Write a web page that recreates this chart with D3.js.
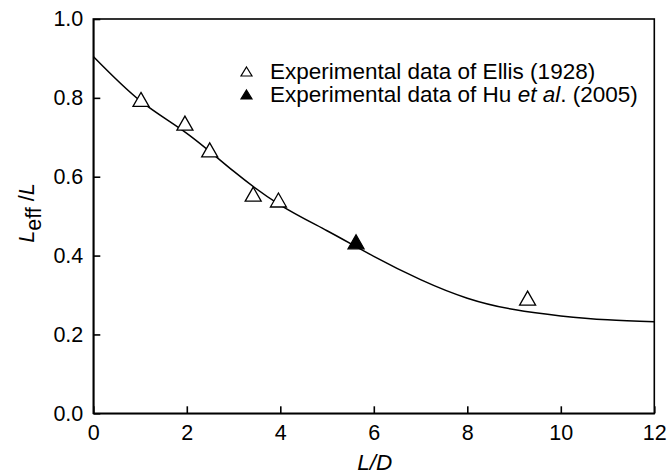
<!DOCTYPE html>
<html>
<head>
<meta charset="utf-8">
<script src="https://cdn.jsdelivr.net/npm/d3@7"></script>
<style>
  body { margin: 0; background: #fff; }
  svg { display: block; font-family: "Liberation Sans", Arial, Helvetica, sans-serif; }
</style>
</head>
<body>
<script>
// Ellis (1928) data, open triangles
const ellisLD = [1.02, 1.96, 2.49, 3.42, 3.96, 9.29];
const ellisLeff = [0.796, 0.736, 0.668, 0.556, 0.541, 0.292];

// Hu et al. (2005), filled triangle
const huLD = [5.62];
const huLeff = [0.435];

// fitted curve
const fitLD = [0, 1, 2, 3, 4, 5, 6, 7, 8, 9, 10, 11, 12];
const fitLeff = [0.905, 0.793, 0.710, 0.614, 0.528, 0.463, 0.398, 0.339, 0.292, 0.263, 0.247, 0.237, 0.232];

const xTicks = [0, 2, 4, 6, 8, 10, 12];
const yTicks = [0, 0.2, 0.4, 0.6, 0.8, 1.0];

const width = 667;
const height = 473;
const margin = { top: 19, right: 13, bottom: 60, left: 93.3 };
const fontSize = 21.5;

const svg = d3.select("body")
  .append("svg")
  .attr("width", width)
  .attr("height", height);

const x = d3.scaleLinear()
  .domain([0, 12])
  .range([margin.left, 654.3]);

const y = d3.scaleLinear()
  .domain([0, 1])
  .range([413.3, margin.top]);

// frame (top and right edges)
svg.append("rect")
  .attr("x", x(0))
  .attr("y", y(1))
  .attr("width", x(12) - x(0))
  .attr("height", y(0) - y(1))
  .attr("fill", "none")
  .attr("stroke", "#000")
  .attr("stroke-width", 1.6);

// axes, ticks pointing inward
const xAxis = svg.append("g")
  .attr("transform", `translate(0,${y(0)})`)
  .call(d3.axisBottom(x).tickValues(xTicks).tickSizeInner(-7).tickSizeOuter(0).tickPadding(11).tickFormat(d3.format("d")));

const yAxis = svg.append("g")
  .attr("transform", `translate(${x(0)},0)`)
  .call(d3.axisLeft(y).tickValues(yTicks).tickSizeInner(-7).tickSizeOuter(0).tickPadding(10).tickFormat(d3.format(".1f")));

[xAxis, yAxis].forEach(g => {
  g.select(".domain").attr("stroke-width", 1.6);
  g.selectAll(".tick line").attr("stroke-width", 1.6);
  g.selectAll("text").attr("font-size", fontSize).attr("font-family", "Liberation Sans, Arial, sans-serif").attr("fill", "#000");
});

// fitted curve
const line = d3.line()
  .x((d, i) => x(fitLD[i]))
  .y(d => y(d))
  .curve(d3.curveNatural);

svg.append("path")
  .datum(fitLeff)
  .attr("d", line)
  .attr("fill", "none")
  .attr("stroke", "#000")
  .attr("stroke-width", 1.5);

// triangle centred on its bounding box
function tri(cx, cy, w, h) {
  return `M${cx},${cy - h / 2}L${cx + w / 2},${cy + h / 2}L${cx - w / 2},${cy + h / 2}Z`;
}

svg.selectAll("path.ellis")
  .data(ellisLD)
  .enter()
  .append("path")
  .attr("class", "ellis")
  .attr("d", (d, i) => tri(x(d), y(ellisLeff[i]), 16, 14))
  .attr("fill", "#fff")
  .attr("stroke", "#000")
  .attr("stroke-width", 1.3);

svg.selectAll("path.hu")
  .data(huLD)
  .enter()
  .append("path")
  .attr("class", "hu")
  .attr("d", (d, i) => tri(x(d), y(huLeff[i]), 16, 14))
  .attr("fill", "#000")
  .attr("stroke", "#000")
  .attr("stroke-width", 1.3);

// legend
const legend = svg.append("g").attr("font-size", 22.5);

legend.append("path")
  .attr("d", tri(246.5, 71.5, 11, 9))
  .attr("fill", "#fff")
  .attr("stroke", "#000")
  .attr("stroke-width", 1.2);
legend.append("text")
  .attr("x", 270)
  .attr("y", 79)
  .text("Experimental data of Ellis (1928)");

legend.append("path")
  .attr("d", tri(246.5, 94.5, 11, 9))
  .attr("fill", "#000")
  .attr("stroke", "#000")
  .attr("stroke-width", 1.2);
const t2 = legend.append("text")
  .attr("x", 270)
  .attr("y", 102.3);
t2.append("tspan").text("Experimental data of Hu ");
t2.append("tspan").attr("font-style", "italic").text("et al");
t2.append("tspan").text(". (2005)");

// axis titles
svg.append("text")
  .attr("x", (x(0) + x(12)) / 2 + 1)
  .attr("y", 469.5)
  .attr("text-anchor", "middle")
  .attr("font-size", fontSize + 1)
  .attr("font-style", "italic")
  .text("L/D");

const yl = svg.append("text")
  .attr("transform", `translate(33.5,213) rotate(-90)`)
  .attr("text-anchor", "middle")
  .attr("font-size", fontSize);
yl.append("tspan").attr("font-style", "italic").text("L");
yl.append("tspan").attr("dy", 7).text("eff");
yl.append("tspan").attr("dy", -7).text(" /");
yl.append("tspan").attr("font-style", "italic").text("L");
</script>
</body>
</html>
